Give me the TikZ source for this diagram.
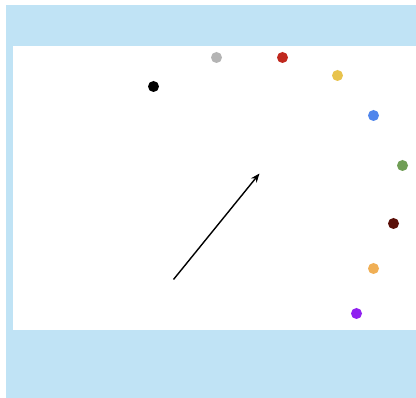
\documentclass[tikz,border=0pt]{standalone}
\usetikzlibrary{arrows.meta}
\definecolor{bgblue}{RGB}{192,227,245}
\definecolor{cgray}{RGB}{180,180,180}
\definecolor{cred}{RGB}{192,40,30}
\definecolor{cyellow}{RGB}{232,195,77}
\definecolor{cblue}{RGB}{80,134,236}
\definecolor{cgreen}{RGB}{112,158,86}
\definecolor{cdarkred}{RGB}{90,15,8}
\definecolor{corange}{RGB}{240,175,85}
\definecolor{cpurple}{RGB}{144,32,240}
\tikzset{dot/.style={circle,inner sep=0pt,minimum size=11pt,fill=#1}}
\begin{document}
\begin{tikzpicture}[x=1pt,y=-1pt]
\useasboundingbox (0,0) rectangle (416,398);
\fill[bgblue] (6,5) rectangle (416,398);
\fill[white] (13,46) rectangle (416,330);
\begin{scope}[shift={(0.5,0.5)}]
\node[dot=black] (k) at (153,86) {};
\node[dot=cgray] (g) at (216,57) {};
\node[dot=cred] (r) at (282,57) {};
\node[dot=cyellow] (y) at (337,75) {};
\node[dot=cblue] (b) at (373,115) {};
\node[dot=cgreen] (gr) at (402,165) {};
\node[dot=cdarkred] (dr) at (393,223) {};
\node[dot=corange] (o) at (373,268) {};
\node[dot=cpurple] (p) at (356,313) {};
\coordinate (a1) at (173,279);
\coordinate (a2) at (259,173);
\end{scope}
\draw[line width=1.4pt,-{Stealth[length=9pt,width=7pt]}] (a1) -- (a2);
\end{tikzpicture}
\end{document}
